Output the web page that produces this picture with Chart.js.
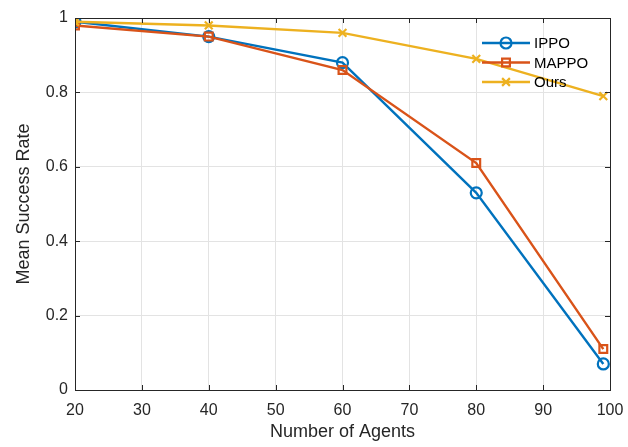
<!DOCTYPE html>
<html>
<head>
<meta charset="utf-8">
<script src="https://cdn.jsdelivr.net/npm/chart.js@4/dist/chart.umd.min.js"></script>
<style>
  html, body { margin: 0; padding: 0; background: #fff; }
  #wrap { width: 628px; height: 447px; }
</style>
</head>
<body>
<div id="wrap"><canvas id="myChart" width="628" height="447"></canvas></div>
<script>
// data
const agents = [20, 40, 60, 80, 99];
const ippo  = [0.99, 0.95, 0.88, 0.53, 0.07];
const mappo = [0.98, 0.95, 0.86, 0.61, 0.11];
const ours  = [0.99, 0.98, 0.96, 0.89, 0.79];
const seriesNames = ['IPPO', 'MAPPO', 'Ours'];

const colIPPO  = '#0072BD';
const colMAPPO = '#D95319';
const colOurs  = '#EDB120';
const axisCol  = '#262626';
const fontFam  = '"Liberation Sans", Arial, Helvetica, sans-serif';

function toPoints(ys) {
  return agents.map((a, i) => ({ x: a, y: ys[i] }));
}

// box around the axes + ticks pointing inwards (matlab style)
const boxPlugin = {
  id: 'box',
  afterDraw(chart) {
    const ctx = chart.ctx;
    const a = chart.chartArea;
    const xs = chart.scales.x, ys = chart.scales.y;
    const len = 5;
    ctx.save();
    ctx.strokeStyle = axisCol;
    ctx.lineWidth = 1;
    ctx.strokeRect(a.left + 0.5, a.top + 0.5, a.right - a.left, a.bottom - a.top);
    ctx.beginPath();
    xs.ticks.forEach(t => {
      const px = Math.round(xs.getPixelForValue(t.value)) + 0.5;
      ctx.moveTo(px, a.bottom); ctx.lineTo(px, a.bottom - len);
      ctx.moveTo(px, a.top); ctx.lineTo(px, a.top + len);
    });
    ys.ticks.forEach(t => {
      const py = Math.round(ys.getPixelForValue(t.value)) + 0.5;
      ctx.moveTo(a.left, py); ctx.lineTo(a.left + len, py);
      ctx.moveTo(a.right, py); ctx.lineTo(a.right - len, py);
    });
    ctx.stroke();
    ctx.restore();
  }
};

// legend with a short line + marker for every series
const lineLegend = {
  id: 'lineLegend',
  afterDraw(chart) {
    const ctx = chart.ctx;
    const x0 = 482, x1 = 530, tx = 534;
    let y = 43;
    ctx.save();
    ctx.font = '15px ' + fontFam;
    ctx.textBaseline = 'middle';
    chart.data.datasets.forEach(ds => {
      ctx.strokeStyle = ds.borderColor;
      ctx.lineWidth = ds.borderWidth;
      ctx.beginPath();
      ctx.moveTo(x0, y); ctx.lineTo(x1, y);
      ctx.stroke();
      ctx.fillStyle = 'rgba(255,255,255,0)';
      ctx.strokeStyle = ds.borderColor;
      ctx.lineWidth = ds.pointBorderWidth;
      Chart.helpers.drawPoint(ctx, {
        pointStyle: ds.pointStyle,
        radius: ds.pointRadius,
        borderWidth: ds.pointBorderWidth,
        rotation: 0
      }, (x0 + x1) / 2, y);
      ctx.fillStyle = '#000';
      ctx.fillText(ds.label, tx, y + 1);
      y += 19.5;
    });
    ctx.restore();
  }
};

function makeSet(name, ys, col, style, order) {
  return {
    label: name,
    data: toPoints(ys),
    borderColor: col,
    backgroundColor: 'rgba(255,255,255,0)',
    pointBorderColor: col,
    pointBackgroundColor: 'rgba(255,255,255,0)',
    borderWidth: 2.4,
    pointRadius: 5.5,
    pointBorderWidth: 2.2,
    pointStyle: style,
    tension: 0,
    order: order
  };
}

const ctx = document.getElementById('myChart').getContext('2d');
const myChart = new Chart(ctx, {
  type: 'line',
  data: {
    datasets: [
      makeSet(seriesNames[0], ippo, colIPPO, 'circle', 3),
      makeSet(seriesNames[1], mappo, colMAPPO, 'rect', 2),
      makeSet(seriesNames[2], ours, colOurs, 'crossRot', 1)
    ]
  },
  options: {
    responsive: false,
    animation: false,
    layout: { padding: { top: 18, right: 18, left: 0, bottom: 0 } },
    plugins: {
      legend: { display: false },
      tooltip: { enabled: false }
    },
    scales: {
      x: {
        type: 'linear',
        min: 20, max: 100,
        grid: { color: '#e3e3e3', drawTicks: false },
        border: { display: false },
        ticks: { stepSize: 10, padding: 11, color: axisCol, font: { family: fontFam, size: 16 } },
        title: { display: true, text: 'Number of Agents', color: axisCol, padding: { top: 2 },
                 font: { family: fontFam, size: 18 } },
        afterFit(s) { s.height = 57; s.paddingLeft = 0; s.paddingRight = 0; }
      },
      y: {
        min: 0, max: 1,
        grid: { color: '#e3e3e3', drawTicks: false },
        border: { display: false },
        ticks: {
          stepSize: 0.2, padding: 7, color: axisCol, font: { family: fontFam, size: 16 },
          callback: v => (Math.round(v * 10) / 10).toString()
        },
        title: { display: true, text: 'Mean Success Rate', color: axisCol,
                 padding: { top: 13, bottom: 0 },
                 font: { family: fontFam, size: 18 } },
        afterFit(s) { s.width = 75; s.paddingTop = 0; s.paddingBottom = 0; }
      }
    }
  },
  plugins: [boxPlugin, lineLegend]
});
</script>
</body>
</html>
